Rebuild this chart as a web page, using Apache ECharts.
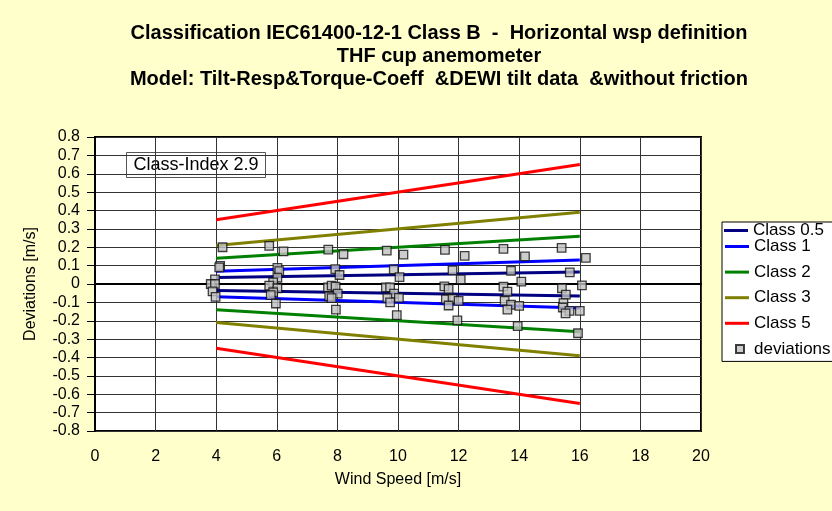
<!DOCTYPE html>
<html>
<head>
<meta charset="utf-8">
<script src="https://cdn.jsdelivr.net/npm/echarts@6/dist/echarts.min.js"></script>
<style>
  html, body { margin: 0; padding: 0; background: #FFFFCC; }
  #chart { width: 832px; height: 511px; }
</style>
</head>
<body>
<div id="chart"></div>
<script>
// Class limit lines: wind speed end points and deviation limits [m/s]
var classWind = [4, 16];
var class05Upper = [0.035, 0.065];
var class05Lower = [-0.035, -0.065];
var class1Upper = [0.07, 0.13];
var class1Lower = [-0.07, -0.13];
var class2Upper = [0.14, 0.26];
var class2Lower = [-0.14, -0.26];
var class3Upper = [0.21, 0.39];
var class3Lower = [-0.21, -0.39];
var class5Upper = [0.35, 0.65];
var class5Lower = [-0.35, -0.65];

// Measured deviations per wind speed
var devWind = [
  4.21, 4.13, 4.10, 3.96, 3.82, 3.96, 3.88, 3.98,
  5.75, 6.22, 6.02, 6.08, 6.02, 5.88, 5.75, 6.02, 5.88, 5.80, 5.97,
  7.70, 8.20, 7.93, 8.07, 7.69, 7.81, 7.94, 8.01, 7.73, 7.81, 7.95,
  9.63, 10.18, 9.86, 10.05, 9.60, 9.74, 9.87, 9.65, 9.74, 10.03, 9.96,
  11.55, 12.20, 11.80, 12.07, 11.53, 11.67, 11.58, 11.80, 12.00, 11.67, 11.96,
  13.48, 14.19, 13.73, 14.07, 13.48, 13.61, 13.52, 13.73, 13.61, 14.00, 13.95,
  15.40, 16.20, 15.67, 16.07, 15.41, 15.54, 15.46, 15.44, 15.66, 15.53, 16.00, 15.94
];
var devValue = [
  0.200, 0.099, 0.090, 0.025, 0.000, 0.000, -0.040, -0.070,
  0.207, 0.178, 0.088, 0.070, 0.034, 0.009, -0.009, -0.023, -0.045, -0.060, -0.106,
  0.187, 0.162, 0.081, 0.049, -0.018, -0.009, -0.014, -0.052, -0.067, -0.077, -0.139,
  0.182, 0.160, 0.079, 0.037, -0.018, -0.018, -0.052, -0.077, -0.100, -0.075, -0.169,
  0.186, 0.153, 0.074, 0.025, -0.013, -0.027, -0.083, -0.081, -0.092, -0.117, -0.198,
  0.191, 0.150, 0.072, 0.013, -0.014, -0.041, -0.092, -0.113, -0.139, -0.119, -0.229,
  0.197, 0.142, 0.063, -0.007, -0.023, -0.058, -0.104, -0.128, -0.146, -0.160, -0.146, -0.268
];

var xTicks = { min: 0, max: 20, interval: 2 };
var yTicks = { min: -0.8, max: 0.8, interval: 0.1 };

var FONT = 'Liberation Sans, Arial, sans-serif';

function pairs(xs, ys) {
  return xs.map(function (x, i) { return [x, ys[i]]; });
}

function classSeries(name, color, upper, lower) {
  var base = {
    name: name,
    type: 'line',
    symbol: 'none',
    lineStyle: { color: color, width: 3 },
    itemStyle: { color: color },
    z: 3,
    animation: false
  };
  return [
    Object.assign({}, base, { data: pairs(classWind, upper) }),
    Object.assign({}, base, { data: pairs(classWind, lower) })
  ];
}

var series = []
  .concat(classSeries('Class 0.5', '#000080', class05Upper, class05Lower))
  .concat(classSeries('Class 1', '#0000FF', class1Upper, class1Lower))
  .concat(classSeries('Class 2', '#008000', class2Upper, class2Lower))
  .concat(classSeries('Class 3', '#808000', class3Upper, class3Lower))
  .concat(classSeries('Class 5', '#FF0000', class5Upper, class5Lower));

series.push({
  name: 'deviations',
  type: 'scatter',
  symbol: 'rect',
  symbolSize: 8.5,
  itemStyle: { color: '#C0C0C0', borderColor: '#111', borderWidth: 1.3 },
  data: pairs(devWind, devValue),
  z: 5,
  animation: false
});

// Legend icons: a plain line stroke and a small square, padded inside a 24x14 box
var lineIcon = 'path://M0,0 M24,14 M0,5.5 L24,5.5 L24,8.5 L0,8.5 Z';
var smallSquare = 'path://M0,0 M24,14 M11,3 L19,3 L19,11 L11,11 Z';

function legendItem(name) { return { name: name, icon: lineIcon }; }

var chart = echarts.init(document.getElementById('chart'), null, { renderer: 'canvas' });
chart.setOption({
  backgroundColor: '#FFFFCC',
  animation: false,
  textStyle: { fontFamily: FONT },
  title: {
    text: 'Classification IEC61400-12-1 Class B  -  Horizontal wsp definition\nTHF cup anemometer\nModel: Tilt-Resp&Torque-Coeff  &DEWI tilt data  &without friction',
    left: 434,
    top: 17,
    textAlign: 'center',
    textStyle: { fontFamily: FONT, fontSize: 20, fontWeight: 'bold', color: '#000', lineHeight: 23 }
  },
  legend: [
    {
      data: [legendItem('Class 0.5')],
      orient: 'vertical',
      left: 722,
      top: 222,
      padding: [0, 0, 0, 2],
      itemWidth: 24,
      itemHeight: 14,
      z: 10,
      textStyle: { fontFamily: FONT, fontSize: 17, color: '#000' },
      selectedMode: false
    },
    {
      data: [legendItem('Class 1'), legendItem('Class 2'), legendItem('Class 3'), legendItem('Class 5'),
        { name: 'deviations', icon: smallSquare }],
      orient: 'vertical',
      left: 722,
      top: 222,
      padding: [16, 20, 4, 2],
      itemWidth: 24,
      itemHeight: 14,
      itemGap: 8.6,
      backgroundColor: '#FFFFFF',
      borderColor: '#000',
      borderWidth: 1,
      textStyle: { fontFamily: FONT, fontSize: 17, color: '#000' },
      selectedMode: false
    }
  ],
  grid: { left: 95, right: 131, top: 137, bottom: 80, show: true, backgroundColor: '#FFFFFF', borderColor: '#000', borderWidth: 2 },
  xAxis: {
    type: 'value',
    min: xTicks.min, max: xTicks.max, interval: xTicks.interval,
    name: 'Wind Speed [m/s]',
    nameLocation: 'middle',
    nameGap: 41,
    nameTextStyle: { fontFamily: FONT, fontSize: 16, color: '#000' },
    axisLine: { lineStyle: { color: '#000', width: 2 } },
    axisTick: { show: false },
    axisLabel: { fontFamily: FONT, fontSize: 16, color: '#000', margin: 18 },
    splitLine: { show: true, lineStyle: { color: '#333', width: 1 } }
  },
  yAxis: {
    type: 'value',
    min: yTicks.min, max: yTicks.max, interval: yTicks.interval,
    name: 'Deviations [m/s]',
    nameLocation: 'middle',
    nameGap: 56,
    nameTextStyle: { fontFamily: FONT, fontSize: 16, color: '#000' },
    axisLine: { lineStyle: { color: '#000', width: 2 } },
    axisTick: { show: true, length: 8, lineStyle: { color: '#000' } },
    axisLabel: {
      fontFamily: FONT, fontSize: 16, color: '#000', margin: 15,
      formatter: function (v) { return Math.abs(v) < 1e-9 ? '0' : (Math.round(v * 10) / 10).toFixed(1); }
    },
    splitLine: { show: true, lineStyle: { color: '#333', width: 1 } }
  },
  graphic: [
    {
      type: 'group',
      left: 126,
      top: 152,
      z: 20,
      children: [
        { type: 'rect', shape: { x: 0, y: 0, width: 139, height: 25 }, style: { fill: '#FFFFFF', stroke: '#555', lineWidth: 1 } },
        { type: 'text', style: { x: 69.5, y: 13, text: 'Class-Index 2.9', align: 'center', verticalAlign: 'middle', font: '18px Liberation Sans, Arial, sans-serif', fill: '#000' } }
      ]
    }
  ],
  series: series
});
</script>
</body>
</html>
